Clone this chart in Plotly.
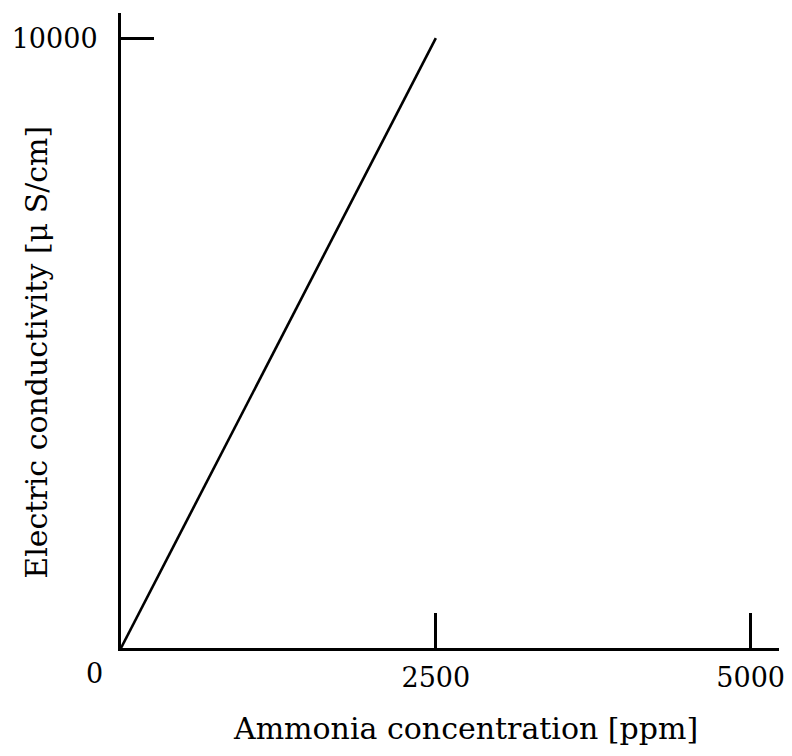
import plotly.graph_objects as go

# Data
concentration_ppm = [0, 2500]
conductivity_uScm = [0, 10000]
x_tick_values = [2500, 5000]
x_tick_labels = ["2500", "5000"]
y_tick_values = [10000]
y_tick_labels = ["10000"]
x_title = "Ammonia concentration [ppm]"
y_title = "Electric conductivity [\u03bc S/cm]"

FONT = "DejaVu Serif"
TICK_SIZE = 27
TITLE_SIZE = 30

fig = go.Figure()
fig.add_trace(go.Scatter(
    x=concentration_ppm, y=conductivity_uScm, mode="lines",
    line=dict(color="black", width=2.6), showlegend=False, hoverinfo="skip"))

fig.update_layout(
    width=784, height=748,
    margin=dict(l=113, r=13, t=5, b=108, autoexpand=False),
    paper_bgcolor="white", plot_bgcolor="white",
    font=dict(family=FONT, color="black", size=TICK_SIZE),
    xaxis=dict(
        range=[0, 5225], showgrid=False, zeroline=False, automargin=False,
        showline=True, linecolor="black", linewidth=3,
        tickmode="array", tickvals=x_tick_values, ticktext=x_tick_labels,
        ticks="inside", ticklen=35, tickwidth=2.5, tickcolor="black",
        ticklabelstandoff=4, tickfont=dict(family=FONT, size=TICK_SIZE),
    ),
    yaxis=dict(
        range=[0, 10412], showgrid=False, zeroline=False, automargin=False,
        showline=True, linecolor="black", linewidth=3,
        tickmode="array", tickvals=y_tick_values, ticktext=y_tick_labels,
        ticks="inside", ticklen=33, tickwidth=2.5, tickcolor="black",
        ticklabelstandoff=15, tickfont=dict(family=FONT, size=TICK_SIZE),
    ),
    annotations=[
        dict(text="0", x=0, y=0, xref="x", yref="y", xanchor="center", yanchor="middle",
             xshift=-27, yshift=-25, showarrow=False, font=dict(family=FONT, size=TICK_SIZE)),
        dict(text=x_title, x=0.523, y=0, xref="paper", yref="paper", xanchor="center",
             yanchor="middle", yshift=-80, showarrow=False, font=dict(family=FONT, size=TITLE_SIZE)),
        dict(text=y_title, x=0, y=0.465, xref="paper", yref="paper", xanchor="center",
             yanchor="middle", xshift=-84, textangle=-90, showarrow=False,
             font=dict(family=FONT, size=TITLE_SIZE)),
    ],
)

fig.write_html("out.html")
